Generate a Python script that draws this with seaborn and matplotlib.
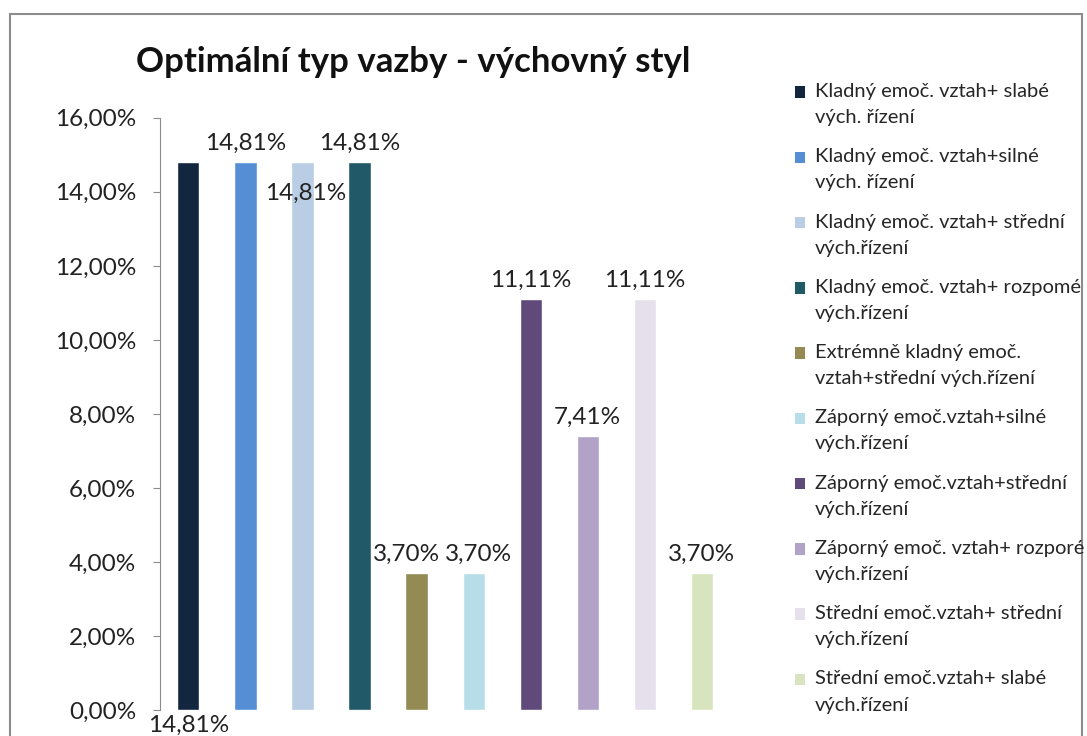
import numpy as np
import pandas as pd
import matplotlib
matplotlib.use("Agg")
import matplotlib.pyplot as plt
import seaborn as sns
from matplotlib.patches import Rectangle
from matplotlib.legend_handler import HandlerPatch
from matplotlib.ticker import FuncFormatter

# Data
categories = ["Kladný emoč. vztah+ slabé\nvých. řízení",
              "Kladný emoč. vztah+silné\nvých. řízení",
              "Kladný emoč. vztah+ střední\nvých.řízení",
              "Kladný emoč. vztah+ rozpomé\nvých.řízení",
              "Extrémně kladný emoč.\nvztah+střední vých.řízení",
              "Záporný emoč.vztah+silné\nvých.řízení",
              "Záporný emoč.vztah+střední\nvých.řízení",
              "Záporný emoč. vztah+ rozporé\nvých.řízení",
              "Střední emoč.vztah+ střední\nvých.řízení",
              "Střední emoč.vztah+ slabé\nvých.řízení"]
values = [14.81, 14.81, 14.81, 14.81, 3.70, 3.70, 11.11, 7.41, 11.11, 3.70]
colors = ["#12263F", "#558ED5", "#B9CDE5", "#215968", "#948A54",
          "#B7DEE8", "#604A7B", "#B3A2C7", "#E6E0EC", "#D7E4BD"]

df = pd.DataFrame({"kat": categories, "hodnota": values})

sns.set_style("white")
plt.rcParams['font.family'] = ['Lato', 'DejaVu Sans']

fig = plt.figure(figsize=(10.87, 7.36), dpi=100)
ax = fig.add_axes([0.147, 0.035, 0.525, 0.805])

sns.barplot(data=df, x="kat", y="hodnota", hue="kat", palette=colors,
            dodge=False, legend=False, width=0.39, saturation=1, ax=ax)

ax.set_xlim(-0.5, 9.5)
ax.set_ylim(0, 16)
ax.set_yticks(np.arange(0, 17, 2))
ax.yaxis.set_major_formatter(FuncFormatter(lambda v, p: f"{v:.2f}%".replace(".", ",")))
ax.set_xticks([])
ax.set_xlabel("")
ax.set_ylabel("")
for s in ["top", "right", "bottom"]:
    ax.spines[s].set_visible(False)
ax.spines["left"].set_color("#8C8C8C")
ax.tick_params(axis="y", which="both", left=True, length=5, color="#8C8C8C",
               labelsize=17.5, labelcolor="#222222", pad=12)

# data labels (Excel placed some of them oddly)
offsets = [(0, None), (0, 6), (0.05, -30), (0, 6), (-0.17, 6),
           (0.08, 6), (0, 6), (0, 6), (0, 6), (0, 6)]
for i, (v, (dx, dy)) in enumerate(zip(values, offsets)):
    lab = f"{v:.2f}%".replace(".", ",")
    if dy is None:
        ax.annotate(lab, (i, 0), xytext=(0, -3), textcoords="offset points",
                    ha="center", va="top", fontsize=17.5, color="#222222",
                    annotation_clip=False)
    else:
        ax.annotate(lab, (i + dx, v), xytext=(0, dy), textcoords="offset points",
                    ha="center", va="bottom", fontsize=17.5, color="#222222",
                    annotation_clip=False)

fig.text(0.38, 0.916, "Optimální typ vazby - výchovný styl", ha="center",
         va="center", fontsize=25, fontweight="bold", color="#111111")


# legend square sits next to the first line of each label, like in Excel
def top_square(legend, orig_handle, xdescent, ydescent, width, height, fontsize):
    return Rectangle((-xdescent, -ydescent + 9), width, height)


handles = [Rectangle((0, 0), 1, 1, facecolor=c, edgecolor="none") for c in colors]
leg = fig.legend(handles, categories, loc="upper left", bbox_to_anchor=(0.724, 0.898),
                 frameon=False, fontsize=14.5, handlelength=0.5, handleheight=0.5,
                 handletextpad=0.5, labelspacing=1.1, borderaxespad=0,
                 handler_map={Rectangle: HandlerPatch(patch_func=top_square)})
for t in leg.get_texts():
    t.set_linespacing(1.65)

# chart area border
fig.patches.append(Rectangle((0.009, -0.05), 0.986, 1.031, transform=fig.transFigure,
                             fill=False, edgecolor="#8C8C8C", linewidth=1.5))

fig.savefig("out.png", dpi=100)
